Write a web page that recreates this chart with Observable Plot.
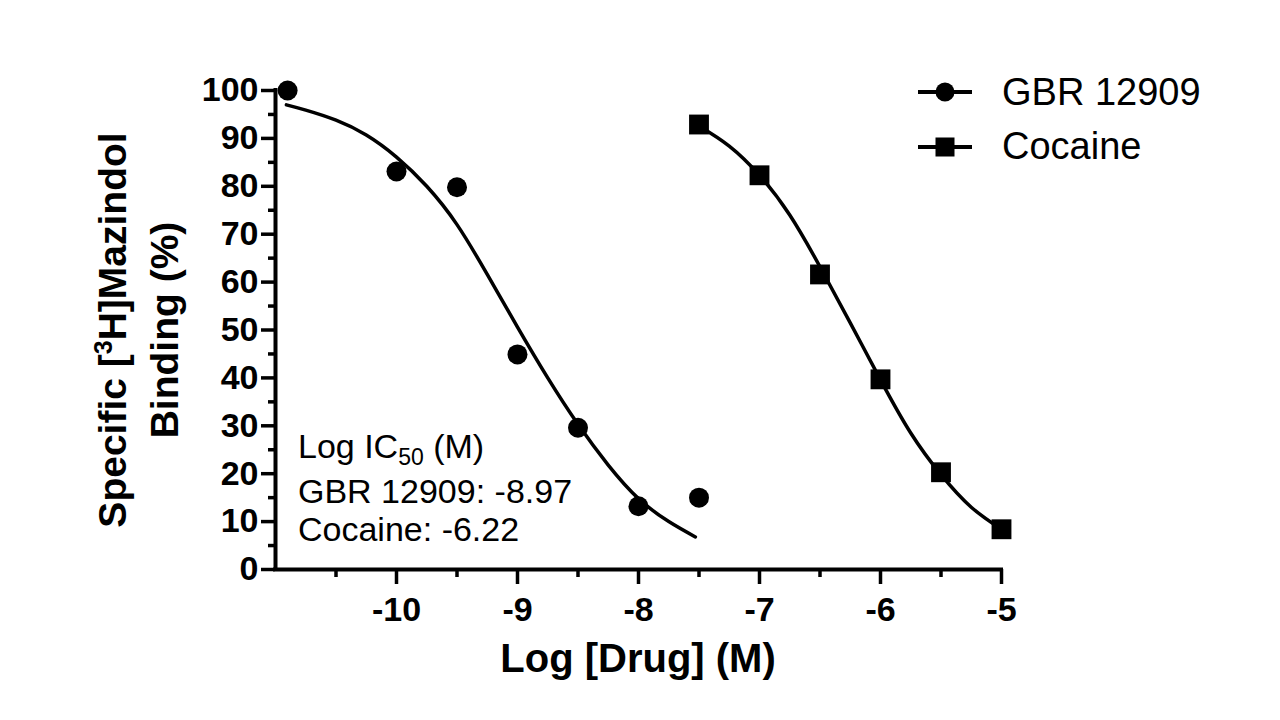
<!DOCTYPE html>
<html>
<head>
<meta charset="utf-8">
<script src="https://cdn.jsdelivr.net/npm/d3@7"></script>
<script src="https://cdn.jsdelivr.net/npm/@observablehq/plot@0.6"></script>
<style>
  html, body { margin: 0; padding: 0; background: #fff; }
  #wrap { position: relative; width: 1280px; height: 720px; overflow: hidden; background: #fff;
          font-family: "Liberation Sans", Arial, sans-serif; color: #000; }
  #wrap svg { position: absolute; left: 0; top: 0; }
  .abs { position: absolute; white-space: nowrap; line-height: 1; }
</style>
</head>
<body>
<div id="wrap"></div>
<script>
// ---- data ----
const xDomain = [-11, -5];
const yDomain = [0, 100];
const xTicks = [-10, -9, -8, -7, -6, -5];
const xMinorTicks = [-10.5, -9.5, -8.5, -7.5, -6.5, -5.5];
const yTicks = [0, 10, 20, 30, 40, 50, 60, 70, 80, 90, 100];
const yMinorTicks = [5, 15, 25, 35, 45, 55, 65, 75, 85, 95];

const series = ["GBR 12909", "Cocaine"];

// measured points
const gbrDose = [-10.9, -10, -9.5, -9, -8.5, -8, -7.5];
const gbrBinding = [100, 83.1, 79.8, 44.9, 29.6, 13.2, 15.0];
const cocDose = [-7.5, -7, -6.5, -6, -5.5, -5];
const cocBinding = [92.9, 82.3, 61.6, 39.7, 20.3, 8.4];

// fitted curves
const gbrCurveDose = [-10.91, -10.75, -10.5, -10.25, -10, -9.75, -9.5, -9.25, -9, -8.75, -8.5, -8.25, -8, -7.75, -7.53];
const gbrCurveBinding = [97.0, 95.9, 93.8, 90.7, 86.1, 80.0, 72.0, 61.6, 50.6, 40.0, 30.3, 21.8, 14.8, 10.0, 6.8];
const cocCurveDose = [-7.5, -7.25, -7, -6.75, -6.5, -6.25, -6, -5.75, -5.5, -5.25, -5];
const cocCurveBinding = [92.6, 88.4, 82.3, 74.0, 63.2, 51.5, 39.6, 28.5, 19.8, 13.0, 8.4];

const annotationLines = ["Log IC", "GBR 12909: -8.97", "Cocaine: -6.22"];
const xTitle = "Log [Drug] (M)";

// ---- build tables ----
const gbrPts = gbrDose.map((d, i) => ({dose: d, binding: gbrBinding[i]}));
const cocPts = cocDose.map((d, i) => ({dose: d, binding: cocBinding[i]}));
const gbrCurve = gbrCurveDose.map((d, i) => ({dose: d, binding: gbrCurveBinding[i]}));
const cocCurve = cocCurveDose.map((d, i) => ({dose: d, binding: cocCurveBinding[i]}));

const FONT = '"Liberation Sans", Arial, sans-serif';
const fmt = d => String(d);

const chart = Plot.plot({
  width: 1280,
  height: 720,
  marginLeft: 275,
  marginRight: 279,
  marginTop: 90,
  marginBottom: 151,
  style: {fontFamily: FONT, color: "#000", background: "transparent", overflow: "visible"},
  x: {domain: xDomain},
  y: {domain: yDomain},
  marks: [
    Plot.axisY(yTicks, {tickSize: 14, tickPadding: 3, strokeWidth: 3.5, fontSize: 34, fontWeight: "bold", tickFormat: fmt, label: null}),
    Plot.axisY(yMinorTicks, {tickSize: 7, strokeWidth: 3.5, text: null, label: null}),
    Plot.axisX(xTicks, {tickSize: 15, tickPadding: 12, strokeWidth: 3.5, fontSize: 34, fontWeight: "bold", tickFormat: fmt, label: null}),
    Plot.axisX(xMinorTicks, {tickSize: 8, strokeWidth: 3.5, text: null, label: null}),
    Plot.ruleX([xDomain[0]], {stroke: "#000", strokeWidth: 4, strokeLinecap: "square"}),
    Plot.ruleY([yDomain[0]], {stroke: "#000", strokeWidth: 4, strokeLinecap: "square"}),
    Plot.line(gbrCurve, {x: "dose", y: "binding", curve: "natural", stroke: "#000", strokeWidth: 3.5}),
    Plot.line(cocCurve, {x: "dose", y: "binding", curve: "natural", stroke: "#000", strokeWidth: 3.5}),
    Plot.dot(gbrPts, {x: "dose", y: "binding", r: 10, fill: "#000", symbol: "circle"}),
    Plot.dot(cocPts, {x: "dose", y: "binding", r: 11.2, fill: "#000", symbol: "square"})
  ]
});

const wrap = document.getElementById("wrap");
wrap.appendChild(chart);

function addText(html, left, baseline, size, weight, extra) {
  const el = document.createElement("div");
  el.className = "abs";
  el.innerHTML = html;
  el.style.left = left + "px";
  el.style.top = (baseline - 0.8465 * size) + "px";
  el.style.fontSize = size + "px";
  el.style.fontWeight = weight;
  if (extra) Object.assign(el.style, extra);
  wrap.appendChild(el);
  return el;
}

// annotation
addText(annotationLines[0] + '<span style="font-size:23px;position:relative;top:7px">50</span> (M)', 298, 458, 34, "normal");
addText(annotationLines[1], 298, 503, 34, "normal");
addText(annotationLines[2], 298, 541, 34, "normal");

// x title
addText(xTitle, 275, 672, 40, "bold", {width: "726px", textAlign: "center"});

// y title (rotated, two lines)
const yt = document.createElement("div");
yt.className = "abs";
yt.style.left = "138px";
yt.style.top = "330px";
yt.style.fontSize = "39px";
yt.style.fontWeight = "bold";
yt.style.lineHeight = "47px";
yt.style.textAlign = "center";
yt.style.transform = "translate(-50%, -50%) rotate(-90deg)";
yt.innerHTML = 'Specific [<span style="font-size:25px;position:relative;top:-14px">3</span>H]Mazindol<br>Binding (%)';
wrap.appendChild(yt);

// legend
const legendY = [92, 147];
const legendBase = [105, 159];
series.forEach((name, i) => {
  const s = document.createElementNS("http://www.w3.org/2000/svg", "svg");
  s.setAttribute("width", 60);
  s.setAttribute("height", 30);
  s.style.position = "absolute";
  s.style.left = "915px";
  s.style.top = (legendY[i] - 15) + "px";
  const ln = document.createElementNS("http://www.w3.org/2000/svg", "line");
  ln.setAttribute("x1", 3); ln.setAttribute("x2", 57);
  ln.setAttribute("y1", 15); ln.setAttribute("y2", 15);
  ln.setAttribute("stroke", "#000"); ln.setAttribute("stroke-width", 4);
  s.appendChild(ln);
  let m;
  if (i === 0) {
    m = document.createElementNS("http://www.w3.org/2000/svg", "circle");
    m.setAttribute("cx", 30); m.setAttribute("cy", 15); m.setAttribute("r", 9.5);
  } else {
    m = document.createElementNS("http://www.w3.org/2000/svg", "rect");
    m.setAttribute("x", 20.5); m.setAttribute("y", 5.5); m.setAttribute("width", 19); m.setAttribute("height", 19);
  }
  m.setAttribute("fill", "#000");
  s.appendChild(m);
  wrap.appendChild(s);
  addText(name, 1002, legendBase[i], 38, "normal");
});
</script>
</body>
</html>
